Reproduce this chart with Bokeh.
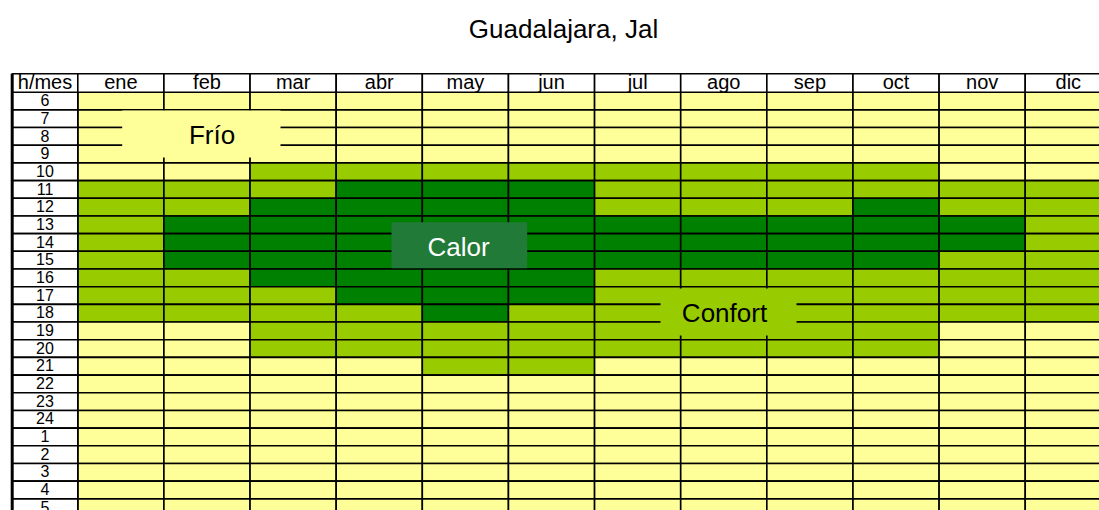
from bokeh.plotting import figure
from bokeh.models import ColumnDataSource, Range1d, BoxAnnotation, Label
from bokeh.core.properties import value
from bokeh.embed import file_html
from bokeh.resources import INLINE

# ---------------- data ----------------
title_text = "Guadalajara, Jal"
corner_label = "h/mes"
months = ["ene", "feb", "mar", "abr", "may", "jun", "jul", "ago", "sep", "oct", "nov", "dic"]
hours = ["6", "7", "8", "9", "10", "11", "12", "13", "14", "15", "16", "17",
         "18", "19", "20", "21", "22", "23", "24", "1", "2", "3", "4", "5"]

# 0 = Frío, 1 = Confort, 2 = Calor  (one value per hour row, 6h ... 5h)
ene = [0, 0, 0, 0, 0, 1, 1, 1, 1, 1, 1, 1, 1, 0, 0, 0, 0, 0, 0, 0, 0, 0, 0, 0]
feb = [0, 0, 0, 0, 0, 1, 1, 2, 2, 2, 1, 1, 1, 0, 0, 0, 0, 0, 0, 0, 0, 0, 0, 0]
mar = [0, 0, 0, 0, 1, 1, 2, 2, 2, 2, 2, 1, 1, 1, 1, 0, 0, 0, 0, 0, 0, 0, 0, 0]
abr = [0, 0, 0, 0, 1, 2, 2, 2, 2, 2, 2, 2, 1, 1, 1, 0, 0, 0, 0, 0, 0, 0, 0, 0]
may = [0, 0, 0, 0, 1, 2, 2, 2, 2, 2, 2, 2, 2, 1, 1, 1, 0, 0, 0, 0, 0, 0, 0, 0]
jun = [0, 0, 0, 0, 1, 2, 2, 2, 2, 2, 2, 2, 1, 1, 1, 1, 0, 0, 0, 0, 0, 0, 0, 0]
jul = [0, 0, 0, 0, 1, 1, 1, 2, 2, 2, 1, 1, 1, 1, 1, 0, 0, 0, 0, 0, 0, 0, 0, 0]
ago = [0, 0, 0, 0, 1, 1, 1, 2, 2, 2, 1, 1, 1, 1, 1, 0, 0, 0, 0, 0, 0, 0, 0, 0]
sep = [0, 0, 0, 0, 1, 1, 1, 2, 2, 2, 1, 1, 1, 1, 1, 0, 0, 0, 0, 0, 0, 0, 0, 0]
oct_ = [0, 0, 0, 0, 1, 1, 2, 2, 2, 2, 1, 1, 1, 1, 1, 0, 0, 0, 0, 0, 0, 0, 0, 0]
nov = [0, 0, 0, 0, 0, 1, 1, 2, 2, 1, 1, 1, 1, 0, 0, 0, 0, 0, 0, 0, 0, 0, 0, 0]
dic = [0, 0, 0, 0, 0, 1, 1, 1, 1, 1, 1, 1, 1, 0, 0, 0, 0, 0, 0, 0, 0, 0, 0, 0]
zone_values = [ene, feb, mar, abr, may, jun, jul, ago, sep, oct_, nov, dic]

zone_names = ["Frío", "Confort", "Calor"]
zone_colors = ["#FFFF99", "#99CC00", "#008000"]

# ---------------- figure ----------------
W, H = 1099, 510
ORG_X, ORG_Y = 0, 0          # where the figure lands on the page
PX_COL = 86.13
PX_ROW = 17.68
GRID_X, GRID_Y = 77.3, 91.7  # page position of the first month/hour cell


def cx(px):
    return (px - GRID_X) / PX_COL


def cy(py):
    return (py - GRID_Y) / PX_ROW


x0 = cx(ORG_X)
y0 = cy(ORG_Y)
p = figure(width=W, height=H, output_backend="svg", toolbar_location=None,
           x_range=Range1d(x0, x0 + W / PX_COL),
           y_range=Range1d(y0 + H / PX_ROW, y0),
           x_axis_location=None, y_axis_location=None, min_border=0)
p.grid.visible = False
p.outline_line_color = None
p.background_fill_color = "white"

FONT_NAME = "Liberation Sans"
FONT = value(FONT_NAME)
label_left = cx(11.7)
header_top = cy(73.3)

# grid cells
left, right, top, bottom, color = [], [], [], [], []
for mi, col in enumerate(zone_values):
    for ri, v in enumerate(col):
        left.append(mi)
        right.append(mi + 1)
        top.append(ri)
        bottom.append(ri + 1)
        color.append(zone_colors[v])
p.quad(left="left", right="right", top="top", bottom="bottom", fill_color="color",
       line_color="black", line_width=1.6,
       source=ColumnDataSource(dict(left=left, right=right, top=top, bottom=bottom, color=color)))

# hour label column
p.quad(left=[label_left] * len(hours), right=[0] * len(hours),
       top=list(range(len(hours))), bottom=[i + 1 for i in range(len(hours))],
       fill_color="white", line_color="black", line_width=1.6)
# header row
p.quad(left=[label_left] + list(range(len(months))), right=[0] + [i + 1 for i in range(len(months))],
       top=[header_top] * (len(months) + 1), bottom=[0] * (len(months) + 1),
       fill_color="white", line_color="black", line_width=1.6)
# thicker outer left edge
p.segment(x0=[label_left], x1=[label_left], y0=[header_top], y1=[len(hours) + 1],
          line_color="black", line_width=3)

header_mid = cy(81.5)
p.text(x=[i + 0.5 for i in range(len(months))], y=[header_mid] * len(months), text=months,
       text_font=FONT, text_font_size="20px", text_align="center",
       text_baseline="middle", text_color="black")
p.text(x=[label_left / 2], y=[header_mid], text=[corner_label],
       text_font=FONT, text_font_size="20px", text_align="center",
       text_baseline="middle", text_color="black")
p.text(x=[label_left / 2] * len(hours), y=[i + 0.45 for i in range(len(hours))], text=hours,
       text_font=FONT, text_font_size="16px", text_align="center",
       text_baseline="middle", text_color="black")

# zone label boxes
def zone_box(l, r, t, b, fill):
    p.add_layout(BoxAnnotation(left=cx(l), right=cx(r), top=cy(t), bottom=cy(b), fill_color=fill,
                               fill_alpha=1.0, line_alpha=0, level="overlay"))

zone_box(121.7, 280, 110, 157, zone_colors[0])
zone_box(391, 526.7, 221.7, 267.7, "#217A37")
zone_box(660, 796, 288, 335, zone_colors[1])

for name, tx, ty, tc in [(zone_names[0], 211.5, 134.2, "black"),
                         (zone_names[2], 458, 246.7, "white"),
                         (zone_names[1], 724, 312.5, "black")]:
    p.add_layout(Label(x=cx(tx), y=cy(ty), text=name,
                       text_font=FONT_NAME, text_font_size="26px", text_align="center",
                       text_baseline="middle", text_color=tc, level="overlay"))

p.add_layout(Label(x=cx(563), y=cy(28.3), text=title_text, text_font=FONT_NAME,
                   text_font_size="26px", text_align="center", text_baseline="middle",
                   text_color="black"))

open("out.html", "w").write(file_html(p, INLINE))
